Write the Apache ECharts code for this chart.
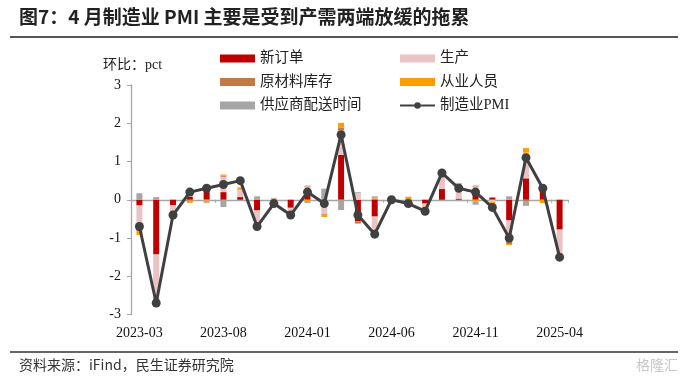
<!DOCTYPE html>
<html><head><meta charset="utf-8">
<script src="https://cdn.jsdelivr.net/npm/echarts@6/dist/echarts.min.js"></script>
<style>html,body{margin:0;padding:0;background:#fff}#c{width:688px;height:383px}</style>
</head><body><div id="c"></div>
<script>
var months = ['2023-03','2023-04','2023-05','2023-06','2023-07','2023-08','2023-09','2023-10','2023-11','2023-12','2024-01','2024-02','2024-03','2024-04','2024-05','2024-06','2024-07','2024-08','2024-09','2024-10','2024-11','2024-12','2025-01','2025-02','2025-03','2025-04'];
var newOrders = [-0.15,-1.43,-0.14,0.08,0.25,0.2,0.07,-0.28,-0.03,-0.21,0.1,0,1.17,-0.56,-0.44,-0.03,-0.06,-0.1,0.28,0.03,0.17,0.05,-0.54,0.56,0.25,-0.78];
var production = [-0.62,-1.15,-0.15,0.06,-0.02,0.4,0.2,-0.4,-0.03,-0.11,0.25,-0.38,0.65,0.18,-0.53,-0.05,-0.08,-0.08,0.32,0.38,0.18,-0.06,-0.53,0.67,0.04,-0.72];
var inventory = [-0.05,-0.04,-0.03,-0.02,0.03,0.03,0.01,-0.04,-0.02,-0.02,0.02,-0.02,0.07,-0.05,0.03,0,0.02,0,0,0.01,0.02,0.02,-0.09,-0.05,0.02,-0.02];
var employment = [-0.1,-0.06,-0.03,-0.06,-0.05,0.03,0.04,-0.07,0.03,0,-0.06,-0.05,0.12,-0.02,0.02,0,0.06,-0.03,0.02,0.02,-0.05,-0.05,-0.03,0.12,-0.09,-0.04];
var supplier = [0.17,0.07,0,0,-0.02,-0.19,0,0.09,0.02,0,-0.03,0.29,-0.27,0.02,0.04,0.02,0,0,0,0,-0.08,0,0.09,-0.11,0.08,0];
var pmi = [-0.7,-2.7,-0.4,0.2,0.3,0.4,0.5,-0.7,-0.1,-0.4,0.2,-0.1,1.7,-0.4,-0.9,0,-0.1,-0.3,0.7,0.3,0.2,-0.2,-1.0,1.1,0.3,-1.5];

var serif = "'Times New Roman','Liberation Serif','Noto Sans CJK SC',serif";
var cjk = "'Times New Roman','Liberation Serif','Noto Sans CJK SC',sans-serif";
var chart = echarts.init(document.getElementById('c'), null, {renderer:'canvas'});
function bar(name, data, color){
  return {name:name, type:'bar', stack:'a', data:data, barWidth:6, itemStyle:{color:color}, xAxisIndex:0};
}
chart.setOption({
  animation:false,
  backgroundColor:'#fff',
  grid:{left:131, right:120, top:85, bottom:68.5},
  legend:[
    {left:215, top:46, orient:'vertical', itemWidth:35, itemHeight:8, itemGap:8.5,
     textStyle:{fontFamily:cjk, fontSize:14.5, color:'#222', lineHeight:15},
     data:[{name:'新订单', icon:'rect'},{name:'原材料库存', icon:'rect'},{name:'供应商配送时间', icon:'rect'}]},
    {left:394, top:46, orient:'vertical', itemWidth:35, itemHeight:8, itemGap:8.5,
     textStyle:{fontFamily:cjk, fontSize:14.5, color:'#222', lineHeight:15},
     data:[{name:'生产', icon:'rect'},{name:'从业人员', icon:'rect'},'制造业PMI']}
  ],
  graphic:[
    {type:'text', left:19, top:7, style:{text:'图7：4 月制造业 PMI 主要是受到产需两端放缓的拖累', fontFamily:"'Noto Sans CJK SC',sans-serif", fontWeight:'bold', fontSize:19, fill:'#222'}},
    {type:'rect', shape:{x:10, y:36, width:668, height:2}, style:{fill:'#555'}},
    {type:'text', left:103, top:58, style:{text:'环比：pct', fontFamily:cjk, fontSize:14, fill:'#222'}},
    {type:'rect', shape:{x:10, y:351, width:668, height:2}, style:{fill:'#666'}},
    {type:'text', left:19, top:358, style:{text:'资料来源：iFind，民生证券研究院', fontFamily:"'Noto Sans CJK SC',sans-serif", fontSize:14, fill:'#333'}},
    {type:'text', right:10, top:358, style:{text:'格隆汇', fontFamily:"'Noto Sans CJK SC',sans-serif", fontSize:14, fill:'#c8c8c8'}}
  ],
  xAxis:[
    {type:'category', data:months, position:'bottom',
     axisLine:{show:false, onZero:false}, axisTick:{show:false},
     axisLabel:{interval:4, margin:12, fontFamily:serif, fontSize:14, color:'#111'}},
    {type:'category', data:months, position:'bottom',
     axisLine:{show:true, onZero:true, lineStyle:{color:'#a6a6a6', width:1.3}},
     axisTick:{show:true, interval:4, length:3, lineStyle:{color:'#a6a6a6'}},
     axisLabel:{show:false}}
  ],
  yAxis:{type:'value', min:-3, max:3, interval:1,
    axisLine:{show:true, lineStyle:{color:'#a6a6a6', width:1.3}},
    axisTick:{show:true, length:4, lineStyle:{color:'#a6a6a6'}},
    splitLine:{show:false},
    axisLabel:{margin:10, fontFamily:serif, fontSize:14, color:'#111'}},
  series:[
    bar('新订单', newOrders, '#c00000'),
    bar('生产', production, '#ebc3c4'),
    bar('原材料库存', inventory, '#c07a46'),
    bar('从业人员', employment, '#ff9d00'),
    bar('供应商配送时间', supplier, '#a6a6a6'),
    {name:'制造业PMI', type:'line', data:pmi, xAxisIndex:0, z:5,
     symbol:'circle', symbolSize:9, lineStyle:{color:'#404040', width:3},
     itemStyle:{color:'#404040'}}
  ]
});
</script></body></html>
